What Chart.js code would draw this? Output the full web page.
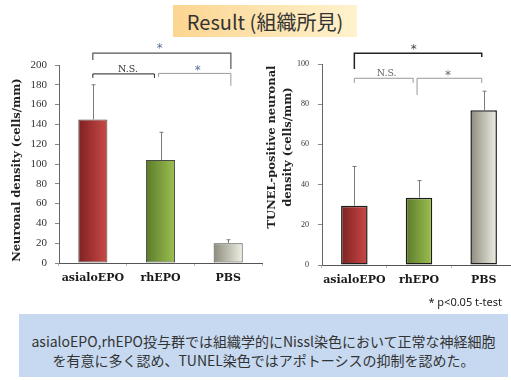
<!DOCTYPE html>
<html>
<head>
<meta charset="utf-8">
<script src="https://cdn.jsdelivr.net/npm/chart.js@4.4.1/dist/chart.umd.min.js"></script>
<style>
  html, body { margin: 0; padding: 0; width: 511px; height: 380px; overflow: hidden; background: #fff; }
  #title {
    position: absolute; left: 173px; top: 5px; width: 184px; height: 32px;
    background: linear-gradient(90deg, #fcd591, #fff2cd);
    font: 20px "Noto Sans CJK JP", "Noto Sans", sans-serif; color: #333;
    display: flex; align-items: center; justify-content: center;
  }
  .wrap { position: absolute; }
  #leftWrap { left: 0; top: 40px; width: 265px; height: 250px; }
  #rightWrap { left: 262px; top: 40px; width: 256px; height: 250px; }
  #note { position: absolute; right: 9px; top: 294px; font: 11px "Noto Sans", sans-serif; color: #222; }
  #summary {
    position: absolute; left: 19px; top: 314px; width: 489px; height: 63px;
    box-sizing: border-box; padding-top: 18px;
    background: #c6d9f0; color: #333; text-align: center;
    font: 14px "Noto Sans CJK JP", sans-serif; line-height: 19px;
  }
</style>
</head>
<body>
<div id="title">Result (組織所見)</div>
<div class="wrap" id="leftWrap"><canvas id="neuronal"></canvas></div>
<div class="wrap" id="rightWrap"><canvas id="tunel"></canvas></div>
<div id="note">* p&lt;0.05 t-test</div>
<div id="summary">asialoEPO,rhEPO投与群では組織学的にNissl染色において正常な神経細胞<br>を有意に多く認め、TUNEL染色ではアポトーシスの抑制を認めた。</div>

<script>
// Groups and measured values (mean and SD, cells/mm)
const categories = ['asialoEPO', 'rhEPO', 'PBS'];
const neuronalDensity = [145, 104, 20];
const neuronalSD = [35, 28, 3.5];
const tunelDensity = [29.5, 33.5, 77];
const tunelSD = [19.5, 8.5, 9.5];
const neuronalTicks = [0, 20, 40, 60, 80, 100, 120, 140, 160, 180, 200];
const tunelTicks = [0, 20, 40, 60, 80, 100];

// Bar fills: dark edge on the left fading to a lighter tone on the right
const barShades = [
  ['#7e2121', '#c94a47'],
  ['#5b7a2a', '#9cc050'],
  ['#8c8b7d', '#efefe4']
];

function gradientFill(pct) {
  return (c) => {
    const chart = c.chart;
    const xs = chart.scales.x;
    const i = c.dataIndex;
    if (!chart.chartArea || !xs || i === undefined) return barShades[i || 0][1];
    const cx = xs.getPixelForValue(i);
    const w = xs.width / categories.length * pct;
    const g = chart.ctx.createLinearGradient(cx - w / 2, 0, cx + w / 2, 0);
    g.addColorStop(0, barShades[i][0]);
    g.addColorStop(1, barShades[i][1]);
    return g;
  };
}

// Error bars, significance brackets and the rotated axis title
const decorations = {
  id: 'decorations',
  afterDatasetsDraw(chart, args, opts) {
    const ctx = chart.ctx;
    const ys = chart.scales.y;
    const meta = chart.getDatasetMeta(0);
    ctx.save();
    ctx.strokeStyle = opts.errColor;
    ctx.lineWidth = 1;
    opts.values.forEach((v, i) => {
      const x = Math.round(meta.data[i].x) + 0.5;
      const y0 = ys.getPixelForValue(v);
      const y1 = ys.getPixelForValue(v + opts.errors[i]);
      ctx.beginPath();
      ctx.moveTo(x, y0);
      ctx.lineTo(x, y1);
      ctx.moveTo(x - 2, y1);
      ctx.lineTo(x + 2, y1);
      ctx.stroke();
    });
    ctx.restore();
  },
  afterDraw(chart, args, opts) {
    const ctx = chart.ctx;
    const xs = chart.scales.x, ys = chart.scales.y;
    ctx.save();
    opts.brackets.forEach(b => {
      const xa = xs.getPixelForValue(b.from), xb = xs.getPixelForValue(b.to);
      const yl = ys.getPixelForValue(b.level);
      ctx.strokeStyle = b.color;
      ctx.lineWidth = b.width;
      ctx.beginPath();
      ctx.moveTo(xa, ys.getPixelForValue(b.ends[0]));
      ctx.lineTo(xa, yl);
      ctx.lineTo(xb, yl);
      ctx.lineTo(xb, ys.getPixelForValue(b.ends[1]));
      ctx.stroke();
      ctx.fillStyle = b.labelColor;
      ctx.font = b.font;
      ctx.textAlign = 'center';
      ctx.textBaseline = 'bottom';
      ctx.fillText(b.label, xs.getPixelForValue(b.labelAt), yl + b.labelShift);
    });
    const t = opts.axisTitle;
    ctx.fillStyle = '#222';
    ctx.font = t.font;
    ctx.textAlign = 'center';
    ctx.textBaseline = 'middle';
    t.lines.forEach((line, k) => {
      ctx.save();
      ctx.translate(t.x[k], t.y);
      ctx.rotate(-Math.PI / 2);
      ctx.fillText(line, 0, 0);
      ctx.restore();
    });
    ctx.restore();
  }
};

function makeChart(id, cfg) {
  return new Chart(document.getElementById(id), {
    type: 'bar',
    data: {
      labels: categories,
      datasets: [{
        data: cfg.values,
        backgroundColor: gradientFill(cfg.pct),
        borderColor: cfg.border,
        borderWidth: cfg.borderWidth,
        borderSkipped: false,
        barPercentage: 1,
        categoryPercentage: cfg.pct
      }]
    },
    options: {
      responsive: true,
      maintainAspectRatio: false,
      animation: false,
      events: [],
      layout: { padding: cfg.padding },
      plugins: {
        legend: { display: false },
        tooltip: { enabled: false },
        decorations: {
          values: cfg.values,
          errors: cfg.errors,
          errColor: '#7a7a7a',
          brackets: cfg.brackets,
          axisTitle: cfg.axisTitle
        }
      },
      scales: {
        x: {
          grid: { offset: true, drawOnChartArea: false, tickLength: 3, color: '#bbb' },
          border: { color: '#555', width: 1 },
          ticks: {
            color: '#1a1a1a', padding: 6, autoSkip: false, maxRotation: 0, minRotation: 0,
            font: { family: 'DejaVu Serif', weight: 'bold', size: 11 }
          },
          afterFit: s => { s.height = cfg.xHeight; }
        },
        y: {
          min: 0,
          max: cfg.ticks[cfg.ticks.length - 1],
          afterBuildTicks: s => { s.ticks = cfg.ticks.map(v => ({ value: v })); },
          grid: { drawOnChartArea: false, tickLength: 4, color: '#888' },
          border: { color: '#666', width: 1 },
          ticks: { color: '#333', padding: cfg.tickPad, font: { family: 'Liberation Serif', size: cfg.tickSize } },
          afterFit: s => { s.width = cfg.yWidth; }
        }
      }
    },
    plugins: [decorations]
  });
}

makeChart('neuronal', {
  values: neuronalDensity,
  errors: neuronalSD,
  ticks: neuronalTicks,
  pct: 0.43,
  border: '#4a4a4a',
  borderWidth: 1,
  padding: { top: 25, right: 3, bottom: 0, left: 0 },
  xHeight: 27,
  yWidth: 59,
  tickPad: 8,
  tickSize: 11,
  axisTitle: { lines: ['Neuronal density (cells/mm)'], x: [17], y: 130, font: 'bold 11.5px "DejaVu Serif"' },
  brackets: [
    { from: 0, to: 2.04, level: 212, ends: [205, 196], color: '#555', width: 1.2, label: '*', labelAt: 0.99, labelColor: '#5b6f96', labelShift: 2, font: '12px "DejaVu Sans"' },
    { from: 0, to: 0.91, level: 191, ends: [187, 187], color: '#222', width: 1, label: 'N.S.', labelAt: 0.52, labelColor: '#333', labelShift: 0, font: '9.5px "DejaVu Serif"' },
    { from: 0.97, to: 2.04, level: 191.5, ends: [188, 179], color: '#9a9a9a', width: 1, label: '*', labelAt: 1.55, labelColor: '#5b6f96', labelShift: 3, font: '12px "DejaVu Sans"' }
  ]
});

makeChart('tunel', {
  values: tunelDensity,
  errors: tunelSD,
  ticks: tunelTicks,
  pct: 0.41,
  border: '#1e1e1e',
  borderWidth: 1.5,
  padding: { top: 24, right: 2, bottom: 0, left: 0 },
  xHeight: 25,
  yWidth: 60,
  tickPad: 9,
  tickSize: 8,
  axisTitle: { lines: ['TUNEL-positive neuronal', 'density (cells/mm)'], x: [10, 26], y: 107, font: 'bold 11.5px "DejaVu Serif"' },
  brackets: [
    { from: 0, to: 1.97, level: 105.3, ends: [97.5, 103.5], color: '#222', width: 1.5, label: '*', labelAt: 0.92, labelColor: '#444', labelShift: 3, font: '12px "DejaVu Sans"' },
    { from: 0, to: 0.91, level: 92.9, ends: [90.6, 90.6], color: '#999', width: 1, label: 'N.S.', labelAt: 0.5, labelColor: '#666', labelShift: 0, font: '9.5px "DejaVu Serif"' },
    { from: 0.97, to: 1.97, level: 92.9, ends: [84.6, 90.6], color: '#999', width: 1, label: '*', labelAt: 1.45, labelColor: '#666', labelShift: 4, font: '12px "DejaVu Sans"' }
  ]
});
</script>
</body>
</html>
